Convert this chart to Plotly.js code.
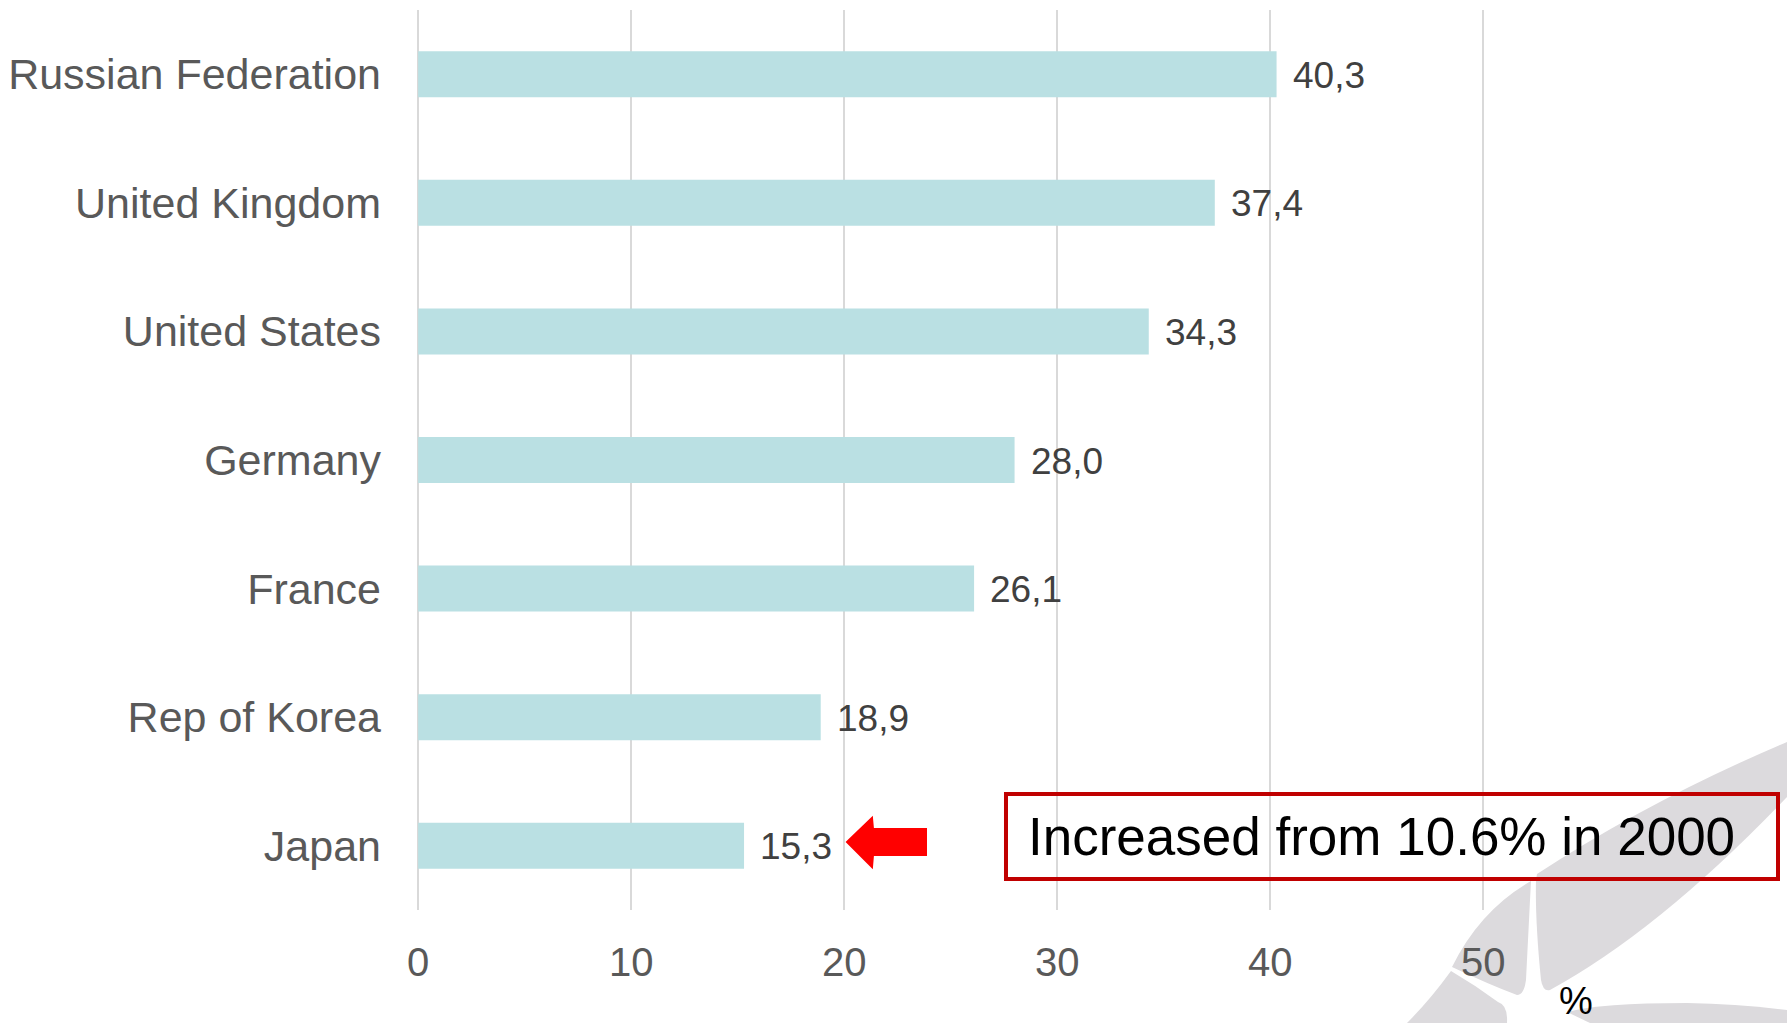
<!DOCTYPE html>
<html>
<head>
<meta charset="utf-8">
<script src="https://cdn.plot.ly/plotly-3.0.1.min.js"></script>
<style>html,body{margin:0;padding:0;background:#fff;}#chart{width:1787px;height:1023px;}</style>
</head>
<body>
<div id="chart"></div>
<script>
// ---- data ----
var countries = ["Russian Federation", "United Kingdom", "United States", "Germany", "France", "Rep of Korea", "Japan"];
var shares = [40.3, 37.4, 34.3, 28.0, 26.1, 18.9, 15.3];
var xTicks = [0, 10, 20, 30, 40, 50];
var noteText = "Increased from 10.6% in 2000";
var unitText = "%";

// ---- layout geometry ----
var W = 1787, H = 1023;
var M = {l: 416, r: 176, t: 10, b: 113};
var PW = W - M.l - M.r, PH = H - M.t - M.b;
function px(x) { return ((x - M.l) / PW).toFixed(5); }
function py(y) { return (1 - (y - M.t) / PH).toFixed(5); }
function P(x, y) { return px(x) + "," + py(y); }

var labelFont = "Liberation Sans, Arial, sans-serif";

var trace = {
  type: "bar",
  orientation: "h",
  x: shares,
  y: countries,
  marker: {color: "#bae0e3"},
  hoverinfo: "none"
};

var annotations = countries.map(function (c, i) {
  return {
    x: shares[i], y: c, xref: "x", yref: "y",
    text: shares[i].toFixed(1).replace(".", ","),
    showarrow: false, xanchor: "left", yanchor: "middle", xshift: 14, yshift: -1,
    font: {family: labelFont, size: 37, color: "#404040"}
  };
});
annotations.push({
  xref: "paper", yref: "paper", x: Number(px(1026)), y: Number(py(836)),
  text: noteText, showarrow: false, xanchor: "left", yanchor: "middle",
  font: {family: labelFont, size: 53, color: "#000000"}
});
annotations.push({
  xref: "paper", yref: "paper", x: Number(px(1576)), y: Number(py(1001)),
  text: unitText, showarrow: false, xanchor: "center", yanchor: "middle",
  font: {family: labelFont, size: 38, color: "#000000"}
});

var grey = "#dcdadd";
var shapes = [
  // right blade
  {type: "path", xref: "paper", yref: "paper", layer: "below", line: {width: 0}, fillcolor: grey,
   path: "M" + P(1537, 874) + " Q" + P(1650, 800) + " " + P(1787, 742) +
         " L" + P(1787, 797) + " Q" + P(1660, 930) + " " + P(1550, 990) +
         " Q" + P(1543, 992) + " " + P(1541, 980) + " Q" + P(1535, 920) + " " + P(1536, 880) + " Z"},
  // left blade upper piece
  {type: "path", xref: "paper", yref: "paper", layer: "below", line: {width: 0}, fillcolor: grey,
   path: "M" + P(1531, 881) + " Q" + P(1480, 910) + " " + P(1452, 967) +
         " Q" + P(1490, 985) + " " + P(1517, 995) + " Q" + P(1524, 995) + " " + P(1526, 980) +
         " Q" + P(1529, 920) + " " + P(1531, 881) + " Z"},
  // left blade lower piece
  {type: "path", xref: "paper", yref: "paper", layer: "below", line: {width: 0}, fillcolor: grey,
   path: "M" + P(1451, 971) + " Q" + P(1430, 1000) + " " + P(1407, 1023) +
         " L" + P(1507, 1023) + " Q" + P(1508, 1005) + " " + P(1498, 1002) +
         " Q" + P(1475, 985) + " " + P(1451, 971) + " Z"},
  // bottom blade
  {type: "path", xref: "paper", yref: "paper", layer: "below", line: {width: 0}, fillcolor: grey,
   path: "M" + P(1567, 1012) + " Q" + P(1600, 1003) + " " + P(1687, 1003) +
         " Q" + P(1740, 1004) + " " + P(1787, 1010) + " L" + P(1787, 1023) + " L" + P(1590, 1023) + " Z"},
  // note box
  {type: "rect", xref: "paper", yref: "paper", layer: "above",
   x0: Number(px(1006)), x1: Number(px(1778)), y0: Number(py(794)), y1: Number(py(879)),
   line: {color: "#c00000", width: 4}, fillcolor: "rgba(0,0,0,0)"},
  // red arrow pointing at Japan's bar
  {type: "path", xref: "paper", yref: "paper", layer: "above", line: {color: "#ff0000", width: 2}, fillcolor: "#ff0000",
   path: "M" + P(847, 842) + " L" + P(872, 818) + " L" + P(873, 829) + " L" + P(926, 829) +
         " L" + P(926, 855) + " L" + P(873, 855) + " L" + P(872, 867) + " Z"}
];

var layout = {
  width: W, height: H,
  margin: M,
  paper_bgcolor: "#ffffff", plot_bgcolor: "rgba(0,0,0,0)",
  showlegend: false,
  bargap: 0.642,
  font: {family: labelFont, color: "#595959"},
  xaxis: {
    range: [-0.1, 56], tickvals: xTicks, ticktext: xTicks.map(String),
    showgrid: true, gridcolor: "#d9d9d9", gridwidth: 2, zeroline: false,
    showline: false, ticks: "", ticklabelstandoff: 25,
    tickfont: {family: labelFont, size: 40, color: "#595959"}, fixedrange: true
  },
  yaxis: {
    autorange: "reversed", showgrid: false, zeroline: false, showline: false,
    ticks: "", ticklabelstandoff: 34,
    tickfont: {family: labelFont, size: 43, color: "#595959"}, fixedrange: true
  },
  annotations: annotations,
  shapes: shapes
};

Plotly.newPlot("chart", [trace], layout, {displayModeBar: false, staticPlot: true});
</script>
</body>
</html>
